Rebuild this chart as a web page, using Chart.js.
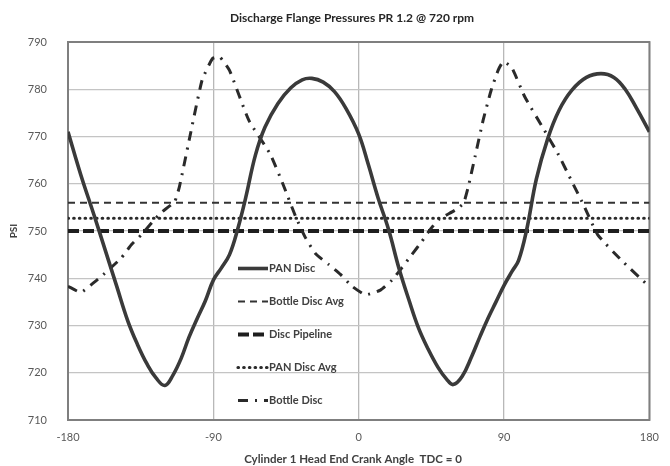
<!DOCTYPE html>
<html><head><meta charset="utf-8">
<script src="https://cdn.jsdelivr.net/npm/chart.js@4.4.0/dist/chart.umd.min.js"></script>
<style>html,body{margin:0;padding:0;background:#fff}#wrap{width:670px;height:466px;position:relative}</style>
</head><body><div id="wrap"><canvas id="c" width="670" height="466"></canvas></div>
<script>
const chartTitle = 'Discharge Flange Pressures PR 1.2 @ 720 rpm';
const xAxisTitle = 'Cylinder 1 Head End Crank Angle  TDC = 0';
const yAxisTitle = 'PSI';
const seriesNames = ['PAN Disc', 'Bottle Disc Avg', 'Disc Pipeline', 'PAN Disc Avg', 'Bottle Disc'];
const xTicks = [-180, -90, 0, 90, 180];
const yTicks = [710, 720, 730, 740, 750, 760, 770, 780, 790];

const panDiscAngles = [-180,-172,-164,-157,-150,-143,-137,-131,-125.5,-120,-115,-110,-105,-100,-95,-90,-85,-80,-75,-70,-64,-58,-50,-42,-35,-29,-22,-15,-8,0,6,12,18.5,25,31,37,43,49,54.5,58.5,64,70,75,80,85,90,95,99,104,110,117,124,132,141,150,158,165,172,180];
const panDiscPsi    = [771,761.8,753.5,746,738.5,731,726,721.8,718.9,717.3,719.5,723,727.6,731.5,735.2,739.6,742.2,745,750.3,757,766,772,777,780.3,782,782.3,781.5,779.5,776,770.5,764,757,750.3,742,735.5,729.5,725,721.2,718.6,717.5,719.2,723.5,727.6,731.5,735,738.5,741.5,743.8,750.3,761,769.5,775.5,779.8,782.5,783.3,782.5,780,776,771];

const bottleDiscAngles = [-180,-172,-165,-158,-147,-140.8,-134.6,-123,-114,-111,-105,-97,-90.5,-86,-80,-68,-55,-47,-39,-33,-26.7,-18.5,-11.3,-4.1,4.2,13.4,20.6,26.7,32.9,39.1,44.2,49.4,59.6,64.8,67.8,72,77,82,86.3,89.4,94.6,102.8,115,123.3,131.5,139.8,148,162.4,180];
const bottleDiscPsi    = [738.3,737,738.8,740.8,744.3,747.1,749.2,753.7,756.2,759.4,769.2,781.9,786.5,786.8,784,773.4,766.4,760,753,748.6,745.2,742.9,740.8,738.3,736.5,737.5,739.6,742.2,745,747.8,750.3,752.4,754.4,755.8,759.3,765.7,773.4,779.8,784,785.8,784.7,778.4,771.3,766.4,760.8,755.1,749.2,743.9,738.2];

const bottleDiscAvgPsi = 756;
const discPipelinePsi = 750;
const panDiscAvgPsi = 752.7;

const FONT = "Lato, 'Open Sans', sans-serif";
const toPts = (xs, ys) => xs.map((x, i) => ({ x, y: ys[i] }));
const flat = (v) => [{ x: xTicks[0], y: v }, { x: xTicks[xTicks.length - 1], y: v }];

const datasets = [
  { label: seriesNames[0], data: toPts(panDiscAngles, panDiscPsi), borderColor: '#3a3a3a', borderWidth: 3.6, tension: 0.4, order: 1 },
  { label: seriesNames[1], data: flat(bottleDiscAvgPsi), borderColor: '#333333', borderWidth: 2, borderDash: [7, 5], order: 4 },
  { label: seriesNames[2], data: flat(discPipelinePsi), borderColor: '#1e1e1e', borderWidth: 4, borderDash: [11, 4], order: 5 },
  { label: seriesNames[3], data: flat(panDiscAvgPsi), borderColor: '#2a2a2a', borderWidth: 3.2, borderDash: [0.5, 5.2], borderCapStyle: 'round', order: 3 },
  { label: seriesNames[4], data: toPts(bottleDiscAngles, bottleDiscPsi), borderColor: '#2a2a2a', borderWidth: 3, borderDash: [10, 7, 2, 7], tension: 0.15, order: 2 }
];

const decor = {
  id: 'decor',
  beforeDatasetsDraw(chart) {
    const { ctx, chartArea: a } = chart;
    ctx.save();
    ctx.strokeStyle = '#7f7f7f';
    ctx.lineWidth = 2;
    ctx.strokeRect(a.left, a.top, a.right - a.left, a.bottom - a.top);
    ctx.restore();
  },
  afterDatasetsDraw(chart) {
    const { ctx } = chart;
    ctx.save();
    const x0 = 238, len = 30, y0 = 268.5, step = 33;
    chart.data.datasets.forEach((ds, i) => {
      const y = y0 + i * step;
      ctx.save();
      ctx.strokeStyle = ds.borderColor;
      ctx.lineWidth = ds.borderWidth;
      ctx.setLineDash(ds.borderDash || []);
      ctx.lineCap = ds.borderCapStyle || 'butt';
      ctx.beginPath();
      ctx.moveTo(x0, y);
      ctx.lineTo(x0 + len, y);
      ctx.stroke();
      ctx.restore();
      ctx.fillStyle = '#404040';
      ctx.font = "bold 11px " + FONT;
      ctx.textAlign = 'left';
      ctx.textBaseline = 'middle';
      ctx.fillText(ds.label, x0 + len + 1, y);
    });
    ctx.fillStyle = '#262626';
    ctx.font = "bold 12px " + FONT;
    ctx.textAlign = 'center';
    ctx.textBaseline = 'middle';
    ctx.fillText(chartTitle, 352, 18);
    ctx.fillStyle = '#404040';
    ctx.font = "bold 11.5px " + FONT;
    ctx.fillText(xAxisTitle, 353, 459);
    ctx.font = "bold 10px " + FONT;
    ctx.save();
    ctx.translate(14, 231);
    ctx.rotate(-Math.PI / 2);
    ctx.fillText(yAxisTitle, 0, 0);
    ctx.restore();
    ctx.restore();
  }
};

new Chart(document.getElementById('c'), {
  type: 'line',
  data: { datasets },
  options: {
    responsive: false,
    animation: false,
    devicePixelRatio: 1,
    layout: { padding: { left: 0, right: 18, top: 42, bottom: 0 } },
    elements: { point: { radius: 0 }, line: { fill: false } },
    plugins: { legend: { display: false }, title: { display: false }, tooltip: { enabled: false } },
    scales: {
      x: {
        type: 'linear', min: -180, max: 180,
        afterBuildTicks: (s) => { s.ticks = xTicks.map(v => ({ value: v })); },
        afterFit: (s) => { s.height = 46; },
        grid: { color: '#b8b8b8', lineWidth: 1.3, drawTicks: false },
        border: { display: false },
        ticks: { padding: 11, color: '#595959', font: { family: FONT, size: 11 }, maxRotation: 0 }
      },
      y: {
        type: 'linear', min: 710, max: 790,
        afterBuildTicks: (s) => { s.ticks = yTicks.map(v => ({ value: v })); },
        afterFit: (s) => { s.width = 68; },
        grid: { color: '#c4c4c4', lineWidth: 1.3, drawTicks: false },
        border: { display: false },
        ticks: { padding: 21, color: '#595959', font: { family: FONT, size: 11 } }
      }
    }
  },
  plugins: [decor]
});
</script></body></html>
